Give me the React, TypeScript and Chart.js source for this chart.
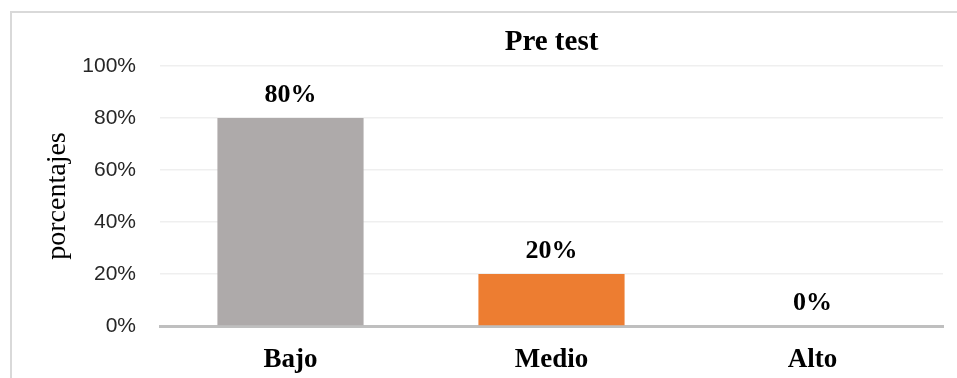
import React, { useEffect, useRef } from "react";
import { Chart, registerables } from "chart.js";

Chart.register(...registerables);

const categories = ["Bajo", "Medio", "Alto"];
const values = [0.8, 0.2, 0];
const dataLabels = ["80%", "20%", "0%"];
const barColors = ["#aeaaaa", "#ed7d31", "#5b9bd5"];
const yTickLabels = ["0%", "20%", "40%", "60%", "80%", "100%"];
const chartTitle = "Pre test";
const yAxisTitle = "porcentajes";

const serif = "'Liberation Serif', 'Times New Roman', serif";
const sans = "'Liberation Sans', Arial, sans-serif";

const framePlugin = {
  id: "frame",
  beforeDraw(chart: any) {
    const ctx = chart.ctx;
    ctx.save();
    ctx.strokeStyle = "#d9d9d9";
    ctx.lineWidth = 2;
    ctx.beginPath();
    ctx.moveTo(11, chart.height);
    ctx.lineTo(11, 12);
    ctx.lineTo(chart.width, 12);
    ctx.stroke();
    ctx.restore();
  },
};

const labelsPlugin = {
  id: "barLabels",
  afterDatasetsDraw(chart: any) {
    const ctx = chart.ctx;
    const meta = chart.getDatasetMeta(0);
    ctx.save();
    ctx.font = `bold 26px ${serif}`;
    ctx.fillStyle = "#000";
    ctx.textAlign = "center";
    ctx.textBaseline = "alphabetic";
    meta.data.forEach((el: any, i: number) => {
      ctx.fillText(dataLabels[i], el.x, el.y - 16.5);
    });
    // chart title
    const ca = chart.chartArea;
    ctx.font = `bold 29px ${serif}`;
    ctx.fillText(chartTitle, (ca.left + ca.right) / 2, ca.top - 16);
    ctx.restore();
  },
};

export default function App() {
  const ref = useRef<HTMLCanvasElement | null>(null);
  useEffect(() => {
    if (!ref.current) return;
    const chart = new Chart(ref.current, {
      type: "bar",
      data: {
        labels: categories,
        datasets: [
          {
            data: values,
            backgroundColor: barColors,
            barPercentage: 0.56,
            categoryPercentage: 1,
          },
        ],
      },
      options: {
        responsive: false,
        animation: false,
        devicePixelRatio: 1,
        layout: { padding: { top: 66, right: 14, left: 0, bottom: 0 } },
        plugins: {
          legend: { display: false },
          tooltip: { enabled: false },
          title: { display: false },
        },
        scales: {
          x: {
            grid: { display: false, drawTicks: false },
            border: { display: true, color: "#bfbfbf", width: 3 },
            ticks: {
              padding: 18,
              color: "#000",
              font: { family: serif, size: 27, weight: "bold" },
            },
            afterFit(scale: any) {
              scale.height = 52;
            },
          },
          y: {
            min: 0,
            max: 1,
            grid: { color: "#efefef", lineWidth: 1.5, drawTicks: false },
            border: { display: false },
            ticks: {
              stepSize: 0.2,
              padding: 24,
              color: "#262626",
              font: { family: sans, size: 21 },
              callback: (_v: any, i: number) => yTickLabels[i],
            },
            title: {
              display: true,
              text: yAxisTitle,
              color: "#000",
              padding: { top: 41, bottom: 0 },
              font: { family: serif, size: 28, weight: "normal" },
            },
            afterFit(scale: any) {
              scale.width = 160;
            },
          },
        },
      },
      plugins: [framePlugin, labelsPlugin],
    });
    return () => chart.destroy();
  }, []);
  return (
    <div style={{ position: "absolute", left: 0, top: 0, width: 957, height: 378, background: "#fff" }}>
      <canvas ref={ref} width={957} height={378} style={{ display: "block" }} />
    </div>
  );
}
